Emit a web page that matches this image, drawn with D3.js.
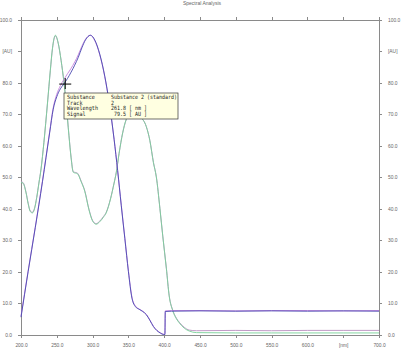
<!DOCTYPE html>
<html>
<head>
<meta charset="utf-8">
<script src="https://cdn.jsdelivr.net/npm/d3@7"></script>
<style>
  body { margin: 0; background: #fff; }
  svg { display: block; }
  .axis path, .axis line { stroke: #8a8a8a; shape-rendering: crispEdges; }
  .axis text { fill: #666; font-family: "Liberation Sans", Arial, sans-serif; font-size: 4.9px; }
</style>
</head>
<body>
<script>
// ---- data ----
var title = "Spectral Analysis";

// substance 2, track 1 / track 2 (blue / violet)
var nmA   = [200, 210, 220, 230, 240, 245, 250, 255, 260, 265, 270, 275, 280, 285, 290, 297, 303, 310, 317, 323, 330, 335, 340, 345, 350, 355, 360, 365, 370, 375, 380, 385, 390, 395, 399, 401, 401.5, 410, 450, 500, 550, 600, 650, 700];
var blueA = [5.5, 20, 34, 48.5, 64, 71.5, 75.5, 78, 79.6, 81.3, 83.3, 85.5, 88, 91, 93.5, 95, 93.5, 89, 82, 74, 62, 52, 41, 30.5, 20, 11.5, 8.8, 8, 7.3, 6.3, 4.5, 2.5, 1.2, 0.4, 0, 0, 7.3, 7.4, 7.5, 7.4, 7.5, 7.4, 7.5, 7.4];
var violA = [5.8, 20.3, 34.2, 48.8, 64.3, 72, 76.3, 79, 81, 82.8, 84.5, 86.5, 88.8, 91.5, 93.7, 95, 93.3, 88.8, 81.8, 73.8, 62, 52, 41.2, 30.8, 20.3, 11.8, 9, 8.1, 7.4, 6.4, 4.6, 2.6, 1.3, 0.5, 0.1, 0.1, 7.5, 7.6, 7.6, 7.5, 7.6, 7.6, 7.5, 7.6];

// substance 1, track 1 / track 2 (green / mauve)
var nmB    = [200, 203, 207, 210, 213, 216, 219, 222, 225, 228, 232, 237, 241, 244, 248, 252, 256, 260, 263, 267, 270, 273, 279, 284, 289, 295, 300, 305, 310, 315, 319, 325, 330, 333, 337, 342, 347, 353, 360, 367, 375, 380, 385, 389, 394, 398, 403, 407, 412, 417, 421, 428, 435, 445, 500, 550, 600, 650, 700];
var greenB = [48.3, 48, 45, 41.5, 39, 38.6, 40, 43.5, 48, 52.5, 61, 73.5, 84, 91, 95, 92.5, 87, 80, 73.5, 63, 56, 51.5, 51, 48.5, 45.5, 39.5, 36, 35, 35.8, 37.2, 38.6, 43, 48, 51.3, 57.5, 64, 68.3, 70, 70, 69, 66, 61.5, 54.5, 50, 40, 31.2, 21, 12.2, 7.5, 5, 3.7, 2, 1.1, 0.6, 0.5, 0.5, 0.5, 0.5, 0.5];
var mauveB = [48.5, 48.2, 45.2, 41.7, 39.2, 38.8, 40.2, 43.6, 48.1, 52.6, 61, 73.4, 83.8, 90.8, 94.8, 92.4, 87, 80.1, 73.6, 63.2, 56.2, 51.7, 51.2, 48.7, 45.7, 39.7, 36.2, 35.2, 36, 37.4, 38.8, 43.1, 48.1, 51.4, 57.5, 64, 68.2, 70, 70, 69, 66, 61.6, 54.6, 50.1, 40.1, 31.3, 21.1, 12.3, 7.7, 5.2, 3.9, 2.3, 1.4, 1.2, 1.3, 1.2, 1.3, 1.3, 1.3];

var xTicks  = [200, 250, 300, 350, 400, 450, 500, 550, 600, 650, 700];
var xLabels = ["200.0", "250.0", "300.0", "350.0", "400.0", "450.0", "500.0", "550.0", "600.0", "[nm]", "700.0"];
var yTicks  = [0, 10, 20, 30, 40, 50, 60, 70, 80, 90, 100];
var yLabels = ["0.0", "10.0", "20.0", "30.0", "40.0", "50.0", "60.0", "70.0", "80.0", "[AU]", "100.0"];

// tooltip
var tipKeys   = ["Substance", "Track", "Wavelength", "Signal"];
var tipValues = ["Substance 2 (standard)", "2", "261.8 [ nm ]", " 79.5 [ AU ]"];
var tipPoint  = [261.8, 79.5];

// ---- chart ----
var width = 401, height = 355;

var svg = d3.select("body").append("svg")
  .attr("width", width)
  .attr("height", height);

var x = d3.scaleLinear().domain([200, 700]).range([21, 379]);
var y = d3.scaleLinear().domain([0, 100]).range([334.5, 19.5]);

// title
svg.append("text")
  .attr("x", 202)
  .attr("y", 4.5)
  .attr("text-anchor", "middle")
  .style("font-family", "Liberation Sans, Arial, sans-serif")
  .style("font-size", "5px")
  .style("fill", "#666")
  .text(title);

// axes
svg.append("g")
  .attr("class", "axis")
  .attr("transform", "translate(" + x(200) + ",0)")
  .call(d3.axisLeft(y).tickValues(yTicks).tickSize(3).tickSizeOuter(0)
    .tickFormat(function(d, i) { return yLabels[i]; }))
  .selectAll("text").attr("dx", "-3");

svg.append("g")
  .attr("class", "axis")
  .attr("transform", "translate(" + x(700) + ",0)")
  .call(d3.axisRight(y).tickValues(yTicks).tickSize(3).tickSizeOuter(0)
    .tickFormat(function(d, i) { return yLabels[i]; }))
  .selectAll("text").attr("dx", "3");

svg.append("g")
  .attr("class", "axis")
  .attr("transform", "translate(0," + y(0) + ")")
  .call(d3.axisBottom(x).tickValues(xTicks).tickSize(3).tickSizeOuter(0)
    .tickFormat(function(d, i) { return xLabels[i]; }))
  .selectAll("text").attr("dy", "1.4em");

svg.append("g")
  .attr("class", "axis")
  .attr("transform", "translate(0," + y(100) + ")")
  .call(d3.axisTop(x).tickValues(xTicks).tickSize(3).tickSizeOuter(0)
    .tickFormat(""));

// lines
var line = d3.line()
  .x(function(d) { return x(d[0]); })
  .y(function(d) { return y(d[1]); })
  .curve(d3.curveMonotoneX);

function draw(nm, vals, color) {
  svg.append("path")
    .datum(d3.zip(nm, vals))
    .attr("fill", "none")
    .attr("stroke", color)
    .attr("stroke-width", 0.9)
    .attr("d", line);
}

draw(nmB, mauveB, "#b890c0");
draw(nmB, greenB, "#78d098");
draw(nmA, violA, "#c480dc");
draw(nmA, blueA, "#4848b0");

// crosshair on the picked point
var cx = x(tipPoint[0]), cy = y(tipPoint[1]);
svg.append("line").attr("x1", cx - 6).attr("x2", cx + 6).attr("y1", cy).attr("y2", cy)
  .attr("stroke", "#000").attr("stroke-width", 1);
svg.append("line").attr("x1", cx).attr("x2", cx).attr("y1", cy - 6).attr("y2", cy + 5)
  .attr("stroke", "#000").attr("stroke-width", 1);

// tooltip box
var tip = svg.append("g").attr("transform", "translate(64,93)");
tip.append("rect")
  .attr("width", 114)
  .attr("height", 26)
  .attr("fill", "#ffffe1")
  .attr("stroke", "#333")
  .attr("stroke-width", 0.7);

tipKeys.forEach(function(k, i) {
  tip.append("text")
    .attr("x", 3)
    .attr("y", 6 + i * 5.6)
    .attr("textLength", k.length * 3.1)
    .attr("lengthAdjust", "spacingAndGlyphs")
    .style("font-family", "DejaVu Sans Mono, monospace")
    .style("font-size", "5.8px")
    .style("fill", "#222")
    .text(k);
  tip.append("text")
    .attr("x", 47)
    .attr("y", 6 + i * 5.6)
    .attr("textLength", tipValues[i].length * 3.0)
    .attr("lengthAdjust", "spacingAndGlyphs")
    .style("font-family", "DejaVu Sans Mono, monospace")
    .style("font-size", "5.8px")
    .style("fill", "#222")
    .style("white-space", "pre")
    .text(tipValues[i]);
});
</script>
</body>
</html>
